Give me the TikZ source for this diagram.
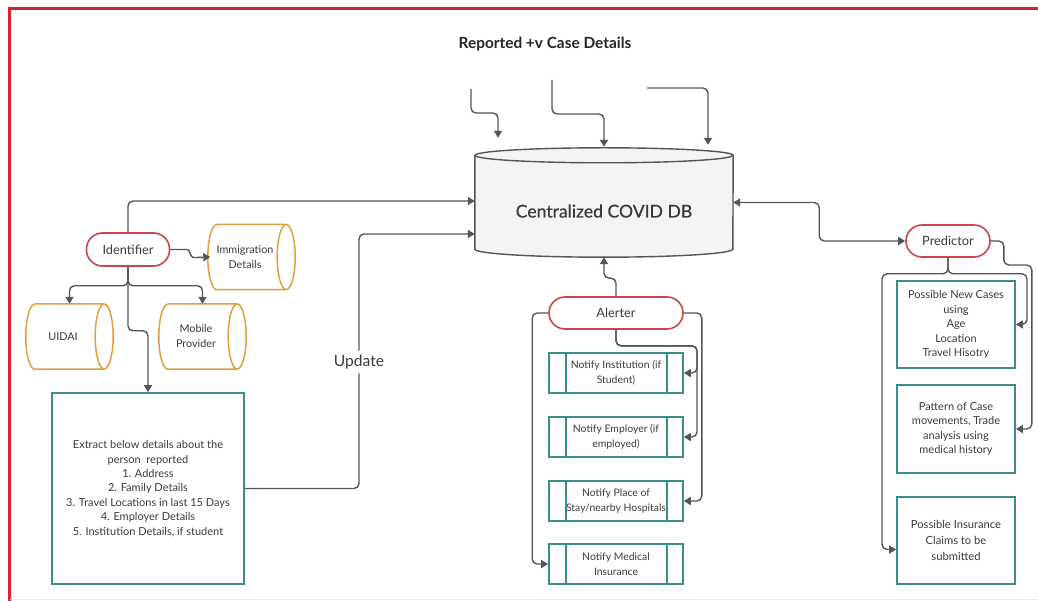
\documentclass[tikz,border=0pt]{standalone}
\usepackage{fontspec}
\setmainfont{Lato}
\usetikzlibrary{arrows.meta,backgrounds}

\definecolor{framered}{HTML}{D8232A}
\definecolor{actorred}{HTML}{C9464B}
\definecolor{storeorange}{HTML}{E0A041}
\definecolor{noteteal}{HTML}{3A8F8B}
\definecolor{linegray}{HTML}{555555}
\definecolor{txtgray}{HTML}{3A3A3A}
\definecolor{dbfill}{HTML}{F4F4F4}

\tikzset{%
    every node/.style={text=txtgray, align=center,
        font=\fontsize{11}{14.4}\selectfont},
    actor/.style={draw=actorred, line width=1.6pt, rounded corners=16pt,
        minimum height=32pt, font=\fontsize{12.8}{14}\selectfont},
    store/.style={minimum width=69pt, minimum height=65pt,
        font=\fontsize{10.8}{15}\selectfont},
    storeline/.style={draw=storeorange, line width=1.5pt},
    note/.style={draw=noteteal, line width=1.6pt, minimum width=118pt},
    notify/.style={draw=noteteal, line width=1.6pt, minimum width=134pt,
        minimum height=40pt, font=\fontsize{10.4}{15}\selectfont},
    notifyline/.style={draw=noteteal, line width=1.6pt},
    conn/.style={draw=linegray, line width=1.4pt, rounded corners=5pt},
    >={Triangle[length=7pt,width=8pt]}
}

\begin{document}
\begin{tikzpicture}[x=1pt, y=1pt]
	\useasboundingbox (0,0) rectangle (1038,-601);
	\draw[framered, line width=2.2pt] (9.5,-601) -- (9.5,-8.5) -- (1038,-8.5);
	\draw[framered!12, line width=1pt] (9.5,-599.5) -- (1038,-599.5);

	\node[font=\fontsize{15.4}{17}\selectfont\bfseries, text=black!85] (ttl) at (545,-44) {Reported +v Case Details};
	\node[minimum width=258pt, minimum height=109pt, text height=30pt, text depth=0pt,
		font=\fontsize{17.6}{20}\selectfont\addfontfeature{FakeBold=0.6}] (db) at (604,-202.5) {Centralized COVID DB};
	\coordinate (src1) at (471,-89);
	\coordinate (src2) at (552,-80);
	\coordinate (src3) at (647,-88);

	\node[actor, minimum width=83pt, minimum height=33pt] (idf) at (128,-249.5) {Identifier};
	\node[store] (imm) at (245,-257) {Immigration\\Details};
	\node[store] (uid) at (63,-336.5) {UIDAI};
	\node[store] (mob) at (196,-336.5) {Mobile\\Provider};
	\node[note, minimum width=192pt, minimum height=191pt] (ext) at (148,-488.5)
		{Extract below details about the\\person~ reported\\1. Address\\2. Family Details\\
		3. Travel Locations in last 15 Days\\4. Employer Details\\5. Institution Details, if student};
	\node[font=\fontsize{15.6}{17}\selectfont, inner sep=4pt] (upd) at (359,-362) {Update};

	\node[actor, minimum width=134pt] (alr) at (616,-313) {Alerter};
	\node[notify] (na) at (616,-373) {Notify Institution (if\\Student)};
	\node[notify] (nb) at (616,-437) {Notify Employer (if\\employed)};
	\node[notify] (nc) at (616,-501) {Notify Place of\\Stay/nearby Hospitals};
	\node[notify] (nd) at (616,-564) {Notify Medical\\Insurance};

	\node[actor, minimum width=84pt] (pred) at (948,-241) {Predictor};
	\node[note, minimum height=87pt] (pb1) at (956,-324.5)
		{Possible New Cases\\using\\Age\\Location\\Travel Hisotry};
	\node[note, minimum height=88pt] (pb2) at (956,-429)
		{Pattern of Case\\movements, Trade\\analysis using\\medical history};
	\node[note, minimum height=87pt, font=\fontsize{11.2}{16}\selectfont] (pb3) at (956,-540.5)
		{Possible Insurance\\Claims to be\\submitted};

	% shapes
	\begin{scope}[on background layer]
	\draw[linegray, line width=1.4pt, fill=dbfill] ([yshift=-7.5pt]db.north west)
		-- ([yshift=8pt]db.south west) arc[start angle=180, end angle=360, x radius=129, y radius=8]
		-- ([yshift=-7.5pt]db.north east) arc[start angle=0, end angle=180, x radius=129, y radius=7.5]
		-- cycle;
	\end{scope}
	\draw[linegray, line width=1.4pt] ([yshift=-7.5pt]db.north west)
		arc[start angle=180, end angle=360, x radius=129, y radius=7.5];
	\foreach \n in {imm,uid,mob}
		\draw[storeline] ([xshift=6.5pt]\n.north west) -- ([xshift=6.5pt]\n.north east)
			([xshift=6.5pt]\n.east) ellipse [x radius=9, y radius=32.5]
			([xshift=6.5pt]\n.south east) -- ([xshift=6.5pt]\n.south west)
			arc[start angle=270, end angle=90, x radius=9, y radius=32.5];
	\foreach \n in {na,nb,nc,nd}
		\draw[notifyline] ([xshift=18pt]\n.north west) -- ([xshift=18pt]\n.south west)
			([xshift=-17pt]\n.north east) -- ([xshift=-17pt]\n.south east);

	% reported cases
	\draw[conn,->] (src1) -- ++(0,-24) -| ([xshift=-106pt,yshift=10pt]db.north);
	\draw[conn,->] (src2) -- ++(0,-34) -| ([yshift=1pt]db.north);
	\draw[conn,->] (src3) -| ([xshift=104pt,yshift=3pt]db.north);

	% identifier
	\draw[conn,->] (idf.north) |- ([yshift=1.5pt]db.west);
	\draw[conn,->] (idf.east) -- ++(12,0) .. controls +(8,0) and +(-8,0) .. ++(16,-8) -- (imm.west);
	\draw[conn,->] (idf.south) -- ++(0,-19) -| ([xshift=6.5pt]uid.north);
	\draw[conn,->] (idf.south) -- ++(0,-19) -| ([xshift=6.5pt]mob.north);
	\draw[conn,->] (idf.south) -- ++(0,-64) -| (ext.north);
	\draw[conn] (ext.east) -| (upd.south);
	\draw[conn,->] (upd.north) |- ([yshift=-31.5pt]db.west);

	% alerter
	\draw[conn,->] (alr.north) -- ++(0,18) -| (db.south);
	\draw[conn,->] (alr.west) -- ++(-16,0) |- (nd.west);
	\draw[conn,->] (alr.east) -- ++(18,0) |- (nc.east);
	\draw[conn,->] (alr.south) -- ++(0,-16) -- ++(81,0) |- (na.east);
	\draw[conn,->] (alr.south) -- ++(0,-16) -- ++(81,0) |- (nb.east);

	% predictor
	\draw[conn,<->] (db.east) -- ++(86,0) |- (pred.west);
	\draw[conn,->] (pred.south) -- ++(0,-16) -- ++(-66,0) |- ([yshift=-9pt]pb3.west);
	\draw[conn,->] (pred.south) -- ++(0,-16) -- ++(79,0) |- (pb1.east);
	\draw[conn,->] (pred.east) -- ++(13,0) -- ++(0,-24) -- ++(28,0) |- (pb2.east);
\end{tikzpicture}
\end{document}
